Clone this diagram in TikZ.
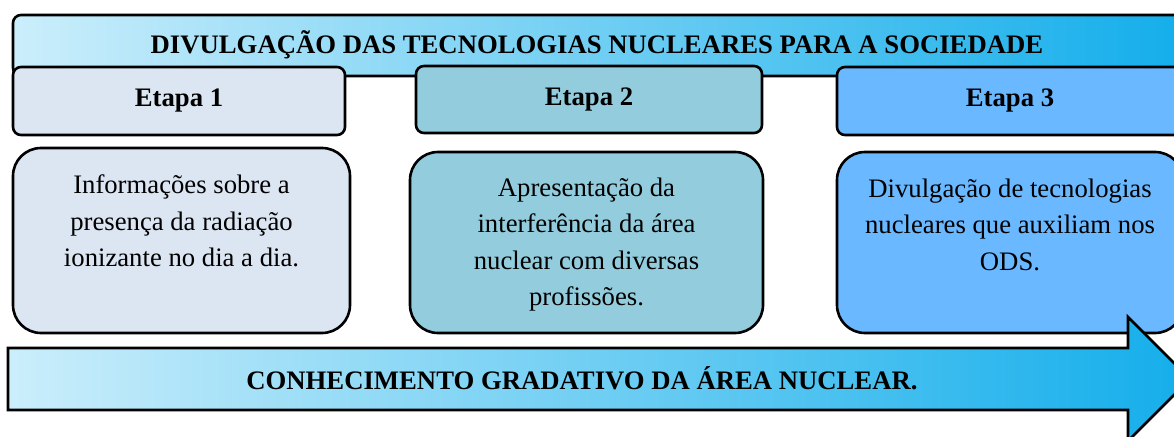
\documentclass[tikz,border=0pt]{standalone}
\usepackage{fontspec}
\setmainfont{Liberation Serif}
\definecolor{gradL}{RGB}{203,238,251}
\definecolor{gradM}{RGB}{150,214,246}
\definecolor{gradR}{RGB}{20,174,235}
\definecolor{fillA}{RGB}{220,230,242}
\definecolor{fillB}{RGB}{147,205,221}
\definecolor{fillC}{RGB}{106,184,255}
\tikzset{
  boxline/.style={draw=black, line width=2.6pt},
  gradfill/.style={left color=gradL, middle color=gradM, right color=gradR},
  etapabox/.style={boxline, rounded corners=8pt, inner sep=0pt, font=\bfseries\fontsize{26.7}{30}\selectfont},
  textbox/.style={boxline, rounded corners=28pt, inner sep=0pt},
  bodytext/.style={align=center, inner sep=0pt, anchor=north, font=\fontsize{26.7}{36.5}\selectfont},
  headtext/.style={inner sep=0pt, font=\bfseries\fontsize{26.7}{30}\selectfont}
}
\begin{document}
\begin{tikzpicture}[x=1pt,y=-1pt]
\useasboundingbox (0,0) rectangle (1174,436);
\begin{scope}
\clip (0,0) rectangle (1174,436);
% top banner
\shade[gradfill, draw=black, line width=2.6pt, rounded corners=8pt]
  (13,15) rectangle (1185,76);
\node[headtext] (title) at (597,45) {DIVULGAÇÃO DAS TECNOLOGIAS NUCLEARES PARA A SOCIEDADE};
% etapa boxes
\node[etapabox, fill=fillA, minimum width=332pt, minimum height=68pt] (e1) at (179,101) {Etapa 1};
\node[etapabox, fill=fillB, minimum width=346pt, minimum height=67pt] (e2) at (589,99.5) {Etapa 2};
\node[etapabox, fill=fillC, minimum width=346pt, minimum height=68pt] (e3) at (1010,101) {Etapa 3};
% content boxes
\node[textbox, fill=fillA, minimum width=337pt, minimum height=185pt] (b1) at (181.5,240.5) {};
\node[textbox, fill=fillB, minimum width=353pt, minimum height=181pt] (b2) at (586.5,242.5) {};
\node[textbox, fill=fillC, minimum width=346pt, minimum height=181pt] (b3) at (1010,242.5) {};
\node[bodytext] (t1) at ([yshift=-28pt]b1.north) {Informações sobre a\\presença da radiação\\ionizante no dia a dia.};
\node[bodytext] (t2) at ([yshift=-27pt]b2.north) {Apresentação da\\interferência da área\\nuclear com diversas\\profissões.};
\node[bodytext] (t3) at ([yshift=-28pt]b3.north) {Divulgação de tecnologias\\nucleares que auxiliam nos\\ODS.};
% bottom arrow
\shade[gradfill, draw=black, line width=2.6pt, line join=miter]
  (8,348) -- (1128,348) -- (1128,317) -- (1190,379) -- (1128,441) -- (1128,410) -- (8,410) -- cycle;
\node[headtext] (arrowtext) at (582,378) {CONHECIMENTO GRADATIVO DA ÁREA NUCLEAR.};
\end{scope}
\end{tikzpicture}
\end{document}
